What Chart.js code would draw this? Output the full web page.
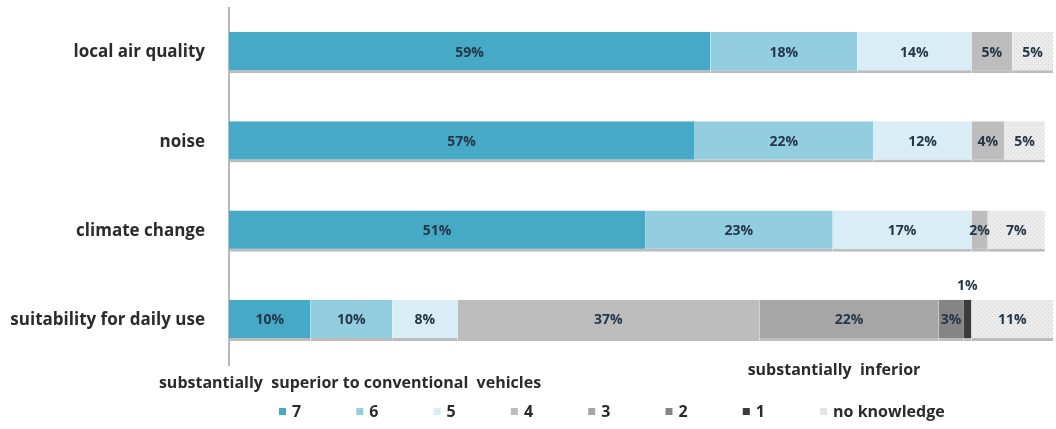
<!DOCTYPE html>
<html>
<head>
<meta charset="utf-8">
<script src="https://cdn.jsdelivr.net/npm/chart.js@4.4.0/dist/chart.umd.min.js"></script>
<style>
  html, body { margin: 0; padding: 0; background: #fff; }
  #wrap { width: 1056px; height: 429px; position: relative; }
</style>
</head>
<body>
<div id="wrap"><canvas id="chart"></canvas></div>
<script>
// ============================================
// DATA (percent of respondents per rating)
// ============================================
const categories = ['local air quality', 'noise', 'climate change', 'suitability for daily use'];
const seriesNames = ['7', '6', '5', '4', '3', '2', '1', 'no knowledge'];

const rating7 = [59, 57, 51, 10];
const rating6 = [18, 22, 23, 10];
const rating5 = [14, 12, 17, 8];
const rating4 = [5, 4, 2, 37];
const rating3 = [0, 0, 0, 22];
const rating2 = [0, 0, 0, 3];
const rating1 = [0, 0, 0, 1];
const noKnowledge = [5, 5, 7, 11];

const noteSuperior = 'substantially  superior to conventional  vehicles';
const noteInferior = 'substantially  inferior';

// ============================================
// STYLE
// ============================================
const FONT = '"Open Sans", Lato, sans-serif';
const TEXT_COLOR = '#2b2b2b';
const LABEL_COLOR = '#243749';

function dottedPattern() {
    const c = document.createElement('canvas');
    c.width = 4;
    c.height = 4;
    const g = c.getContext('2d');
    g.fillStyle = '#ececec';
    g.fillRect(0, 0, 4, 4);
    g.fillStyle = '#d2d2d2';
    g.fillRect(0, 0, 1, 1);
    g.fillRect(2, 2, 1, 1);
    return g.createPattern(c, 'repeat');
}

const seriesColors = ['#46a9c6', '#93cde0', '#d8edf5', '#bdbdbd', '#a6a6a6', '#858585', '#3c3c3c', dottedPattern()];
const legendSwatch = ['#46a9c6', '#93cde0', '#d8edf5', '#bdbdbd', '#a6a6a6', '#858585', '#3c3c3c', '#e4e4e4'];
const seriesValues = [rating7, rating6, rating5, rating4, rating3, rating2, rating1, noKnowledge];

// ============================================
// OVERLAY: value labels, notes, legend
// ============================================
const overlay = {
    id: 'overlay',
    afterDatasetsDraw(chart) {
        const ctx = chart.ctx;
        const area = chart.chartArea;
        ctx.save();

        // value labels on the segments
        ctx.font = 'bold 14px ' + FONT;
        ctx.textAlign = 'center';
        ctx.textBaseline = 'middle';
        ctx.fillStyle = LABEL_COLOR;
        chart.data.datasets.forEach((ds, i) => {
            const meta = chart.getDatasetMeta(i);
            meta.data.forEach((bar, j) => {
                const v = ds.data[j];
                if (!v) return;
                const left = Math.max(Math.min(bar.x, bar.base), area.left);
                const right = Math.min(Math.max(bar.x, bar.base), area.right);
                let cy = bar.y;
                if (v <= 1) cy = bar.y - bar.height / 2 - 14; // too thin, put it above
                ctx.fillText(v + '%', (left + right) / 2, cy);
            });
        });

        // notes under the bars
        ctx.font = 'bold 16px ' + FONT;
        ctx.fillStyle = TEXT_COLOR;
        ctx.fillText(noteSuperior, 350, area.bottom + 18);
        ctx.fillText(noteInferior, 834, area.bottom + 5);

        // legend, equal slots like the original
        const slot = 77.3;
        const startX = 279;
        const y = area.bottom + 46;
        ctx.textAlign = 'left';
        chart.data.datasets.forEach((ds, i) => {
            const x = startX + i * slot;
            ctx.fillStyle = legendSwatch[i];
            ctx.fillRect(x, y - 3, 7, 7);
            ctx.fillStyle = TEXT_COLOR;
            ctx.fillText(ds.label, x + 13, y + 1);
        });

        ctx.restore();
    }
};

// ============================================
// CHART
// ============================================
const datasets = seriesNames.map((name, i) => ({
    label: name,
    data: seriesValues[i],
    backgroundColor: seriesColors[i],
    borderColor: '#bcbcbc',
    borderWidth: { top: 0, left: 0, right: 0, bottom: 3 },
    borderSkipped: false,
    categoryPercentage: 1,
    barPercentage: 0.46
}));

new Chart(document.getElementById('chart'), {
    type: 'bar',
    data: { labels: categories, datasets: datasets },
    options: {
        indexAxis: 'y',
        responsive: true,
        maintainAspectRatio: false,
        animation: false,
        layout: { padding: { top: 8, right: 3, left: 0, bottom: 0 } },
        plugins: {
            legend: { display: false },
            tooltip: { enabled: false }
        },
        scales: {
            x: {
                stacked: true,
                min: 0,
                max: 101,
                grid: { display: false },
                border: { display: false },
                ticks: { display: false },
                afterFit(scale) { scale.height = 64; }
            },
            y: {
                stacked: true,
                grid: { display: false },
                border: { display: true, color: '#b8b8b8', width: 2 },
                ticks: {
                    padding: 16,
                    color: TEXT_COLOR,
                    font: { family: FONT, size: 17, weight: 'bold' }
                },
                afterFit(scale) {
                    scale.width = 229;
                    scale.paddingTop = 0;
                    scale.paddingBottom = 0;
                }
            }
        }
    },
    plugins: [overlay]
});
</script>
</body>
</html>
